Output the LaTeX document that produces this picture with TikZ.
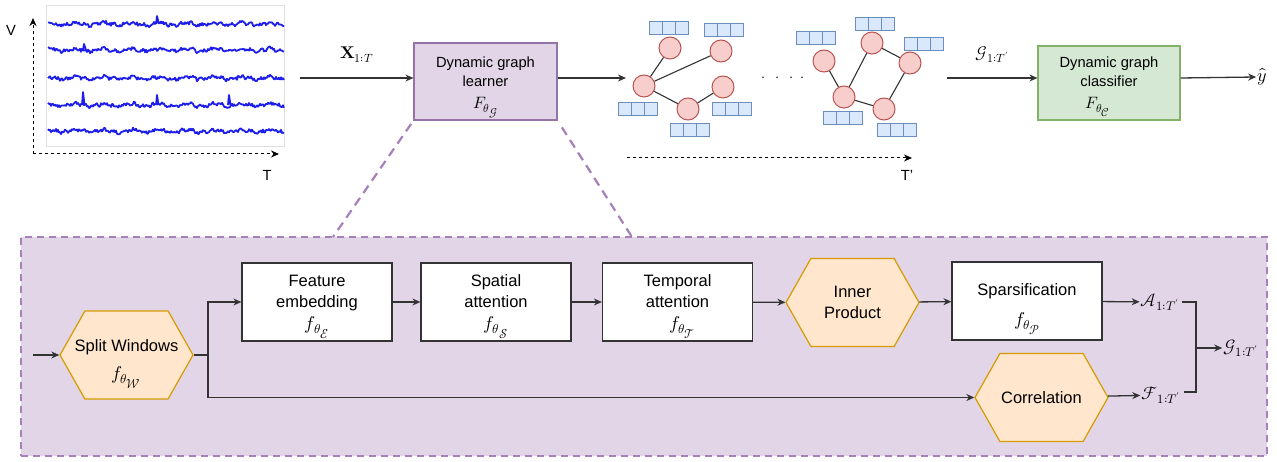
\documentclass[tikz,border=0pt]{standalone}
\usepackage{amsmath}
\usepackage{fontspec}
\usepackage{unicode-math}
\setmainfont{Liberation Sans}
\setmathfont{Latin Modern Math}
\usetikzlibrary{shapes.symbols, arrows.meta, calc}

\definecolor{lilacfill}{HTML}{E1D5E7}
\definecolor{lilacline}{HTML}{9673A6}
\definecolor{lilacdash}{HTML}{A680B8}
\definecolor{mintfill}{HTML}{D5E8D4}
\definecolor{mintline}{HTML}{82B366}
\definecolor{hexfill}{HTML}{FFE6CC}
\definecolor{hexline}{HTML}{D79B00}
\definecolor{rosefill}{HTML}{F8CECC}
\definecolor{roseline}{HTML}{B85450}
\definecolor{skyfill}{HTML}{DAE8FC}
\definecolor{skyline}{HTML}{6C8EBF}
\definecolor{darkline}{HTML}{333333}
\definecolor{tracecol}{HTML}{1E1EEB}

\newcommand{\topfont}{\fontsize{14.7}{19}\selectfont}
\newcommand{\boxfont}{\fontsize{16.5}{21.5}\selectfont}
\newcommand{\labfont}{\fontsize{18}{20}\selectfont}
% larger math inside the boxes
\newcommand{\boxmath}[1]{{\fontsize{18.5}{20}\selectfont$#1$}}
\newcommand{\topmath}[1]{{\fontsize{16.5}{18}\selectfont$#1$}}
\newcommand{\lift}[1]{\rule{0pt}{#1pt}}

\tikzset{
  flow/.style={line width=1.3pt, draw=darkline, -{Stealth[length=8pt,width=7pt]}},
  plain/.style={line width=1.3pt, draw=darkline},
  axis/.style={line width=1pt, dash pattern=on 3pt off 3pt, -{Stealth[length=8pt,width=7pt]}},
  trace/.style={line width=1.8pt, draw=tracecol, line join=round},
  sigframe/.style={draw=black!12, line width=0.8pt, minimum width=238, minimum height=141},
  topbox/.style={draw, line width=1.2pt, align=center, inner sep=0pt, font=\topfont},
  learnbox/.style={topbox, draw=lilacline, fill=lilacfill, minimum width=143, minimum height=77},
  classbox/.style={topbox, draw=mintline, fill=mintfill, minimum width=142, minimum height=74},
  stepbox/.style={draw=darkline, fill=white, line width=1.2pt, minimum width=150, minimum height=78,
    align=center, inner sep=0pt, font=\boxfont},
  hexbox/.style={signal, signal to=east and west, signal pointer angle=121, draw=hexline,
    fill=hexfill, line width=1.2pt, minimum width=133, minimum height=88, align=center,
    inner xsep=-12pt, inner ysep=0pt, font=\boxfont},
  gnode/.style={circle, draw=roseline, fill=rosefill, line width=1pt, minimum size=22, inner sep=0pt},
  gedge/.style={line width=1.1pt, draw=darkline},
  vcell/.style={rectangle, draw=skyline, fill=skyfill, line width=1pt, minimum width=13, minimum height=13, inner sep=0pt},
  mlab/.style={inner sep=1pt, font=\labfont},
  zoomline/.style={line width=2.2pt, draw=lilacdash, dash pattern=on 9pt off 6pt},
  panel/.style={draw=lilacdash, fill=lilacfill, line width=2pt, dash pattern=on 7pt off 5pt,
    minimum width=1246, minimum height=219}
}

\begin{document}
\begin{tikzpicture}[x=1pt, y=-1pt]
\useasboundingbox (0,0) rectangle (1277,462);

% input signals
\node[sigframe] (frame) at (165.5,75.5) {};
\pgfmathsetseed{11}
\foreach \ly in {24,50,78,105,131}
  \draw[trace] plot[domain=48:284, samples=237] (\x, {\ly + 1.6*rand + 1.2*sin(13*\x) + 0.8*sin(37*\x)});
\draw[trace] (156,24) -- (157,16) -- (159,24);
\draw[trace] (83,50) -- (84,44) -- (86,50);
\draw[trace] (82,105) -- (83,92) -- (84.5,105);
\draw[trace] (156,105) -- (157,95) -- (158.5,105);
\draw[trace] (228,105) -- (229,95) -- (230.5,105);
\coordinate (orig) at (33,154);
\coordinate (vtop) at (33,18);
\coordinate (tend) at (279,154);
\draw[axis] (orig) -- (vtop);
\draw[axis] (orig) -- (tend);
\node[font=\topfont] (vlab) at (11,30) {V};
\node[font=\topfont] (tlab) at (267,175) {T};

% learner and classifier
\coordinate (xin) at (300,78);
\node[learnbox] (learner) at (485.5,81.5) {\lift{22}Dynamic graph\\learner\\[3pt]\topmath{F_{\theta_{\scriptstyle\mathcal{G}}}}};
\draw[flow] (xin) -- ([yshift=3.5pt]learner.west) node[inner sep=1pt, font=\fontsize{17}{19}\selectfont, midway, above=14pt] (xlab) {$\symbf{X}_{1:T}$};
\coordinate (gout) at (626,78);
\draw[flow] ([yshift=3.5pt]learner.east) -- (gout);

\coordinate (gin) at (947,78);
\node[classbox] (classifier) at (1109,83) {\lift{19}Dynamic graph\\classifier\\[3pt]\hspace*{-22pt}\topmath{F_{\theta_{\scriptstyle\mathcal{C}}}}};
\draw[flow] (gin) -- ([yshift=5pt]classifier.west) node[inner sep=1pt, font=\fontsize{17}{19}\selectfont, midway, above=14pt] (gtop) {$\mathcal{G}_{1:T'}$};
\node[mlab] (yhat) at (1262,77) {$\hat{y}$};
\draw[flow] ([yshift=5pt]classifier.east) -- (yhat.west);

% graph snapshots
\node[gnode] (a1) at (670,48) {};
\node[gnode] (a2) at (721,51) {};
\node[gnode] (a3) at (644,86) {};
\node[gnode] (a4) at (723,87) {};
\node[gnode] (a5) at (688,109) {};
\draw[gedge] (a1) -- (a3) (a3) -- (a2) (a3) -- (a5) (a5) -- (a4);
\node[gnode] (b1) at (824,61) {};
\node[gnode] (b2) at (872,43) {};
\node[gnode] (b3) at (910,63) {};
\node[gnode] (b4) at (844,97) {};
\node[gnode] (b5) at (884,109) {};
\draw[gedge] (b1) -- (b4) (b4) -- (b2) (b2) -- (b3) (b3) -- (b5) (b4) -- (b5);
\foreach \vn/\cx/\cy in {va1/669/28, va2/724/30, va3/638/109, va4/732/109, va5/690/130,
                         vb1/816/38, vb2/875/24, vb3/924/44, vb4/843/118, vb5/897/130}
  \foreach \k in {-1,0,1}
    \node[vcell] (\vn\k) at (\cx+13*\k,\cy) {};
\node[font=\topfont] (dots) at (783,79) {$\cdot\;\,\cdot\;\,\cdot\;\,\cdot$};
\coordinate (tps) at (627,158);
\coordinate (tpe) at (912,158);
\draw[axis] (tps) -- (tpe);
\node[font=\topfont] (tplab) at (907,175) {T'};

% zoomed panel
\node[panel] (panel) at (644,346.5) {};
\draw[zoomline, shorten <=4pt] (learner.south west) -- (333,237);
\draw[zoomline, shorten <=8pt] (learner.south east) -- (632,237);

\node[hexbox] (split) at (126.5,355) {\lift{30}Split Windows\\[6pt]\boxmath{f_{\theta_{\scriptstyle\mathcal{W}}}}};
\node[stepbox] (embed) at (317,302) {\lift{21}Feature\\embedding\\\boxmath{f_{\theta_{\scriptstyle\mathcal{E}}}}};
\node[stepbox] (spatial) at (496,302) {\lift{21}Spatial\\attention\\\boxmath{f_{\theta_{\scriptstyle\mathcal{S}}}}};
\node[stepbox] (temporal) at (677.5,302) {\lift{21}Temporal\\attention\\\hspace*{10pt}\boxmath{f_{\theta_{\scriptstyle\mathcal{T}}}}};
\node[hexbox] (inner) at (852.5,302.5) {Inner\\Product};
\node[stepbox] (sparse) at (1027,301) {\lift{28}Sparsification\\[8pt]\boxmath{f_{\theta_{\scriptstyle\mathcal{P}}}}};
\node[hexbox] (corr) at (1041.5,397.5) {Correlation};
\node[mlab] (alab) at (1160,302) {$\mathcal{A}_{1:T'}$};
\node[mlab] (flab) at (1161,395) {$\mathcal{F}_{1:T'}$};
\node[mlab] (glab) at (1241,348) {$\mathcal{G}_{1:T'}$};

\coordinate (pin) at (33,355);
\coordinate (br) at (208,355);
\coordinate (jn) at (1196,348);
\draw[flow] (pin) -- (split.west);
\draw[plain] (split.east) -- (br);
\draw[flow] (br) |- (embed.west);
\draw[flow] (br) |- (corr.west);
\draw[flow] (embed) -- (spatial);
\draw[flow] (spatial) -- (temporal);
\draw[flow] (temporal) -- (inner);
\draw[flow] (inner) -- (sparse);
\draw[flow] (sparse) -- (alab);
\draw[flow] (corr) -- (flab);
\draw[plain] ([xshift=2pt]alab.east) -| (jn) |- ([xshift=2pt,yshift=3pt]flab.east);
\draw[flow] (jn) -- (glab.west);
\end{tikzpicture}
\end{document}
